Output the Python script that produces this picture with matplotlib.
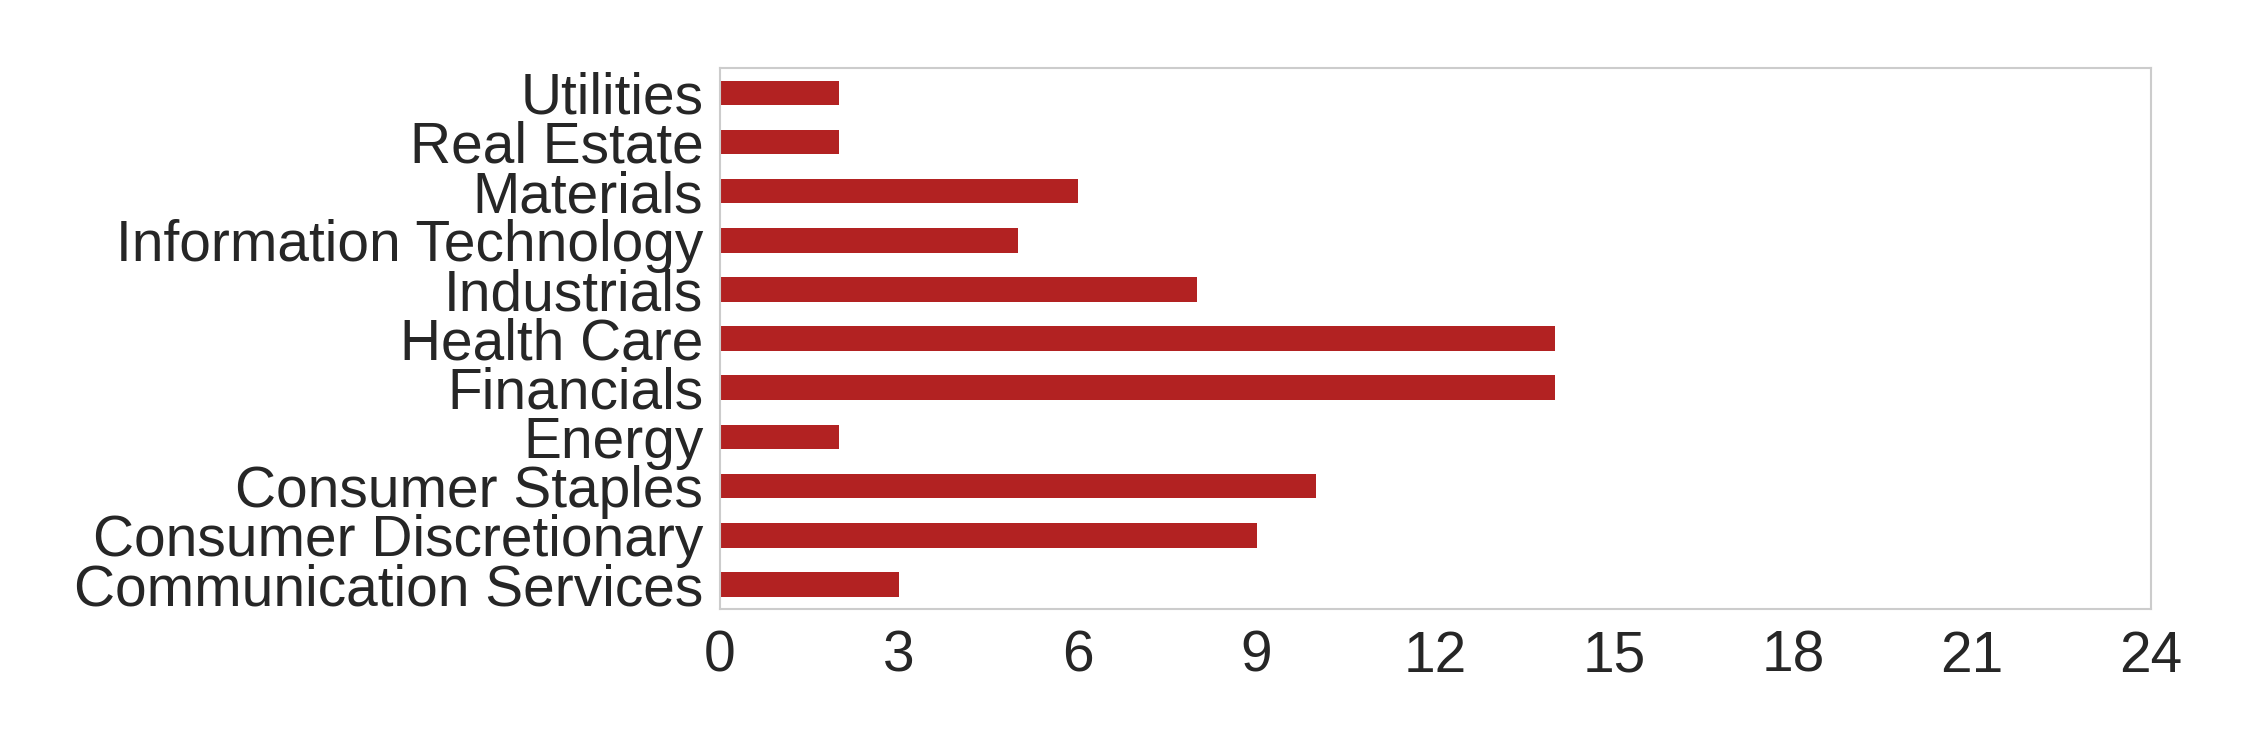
import matplotlib
matplotlib.use('Agg')
import matplotlib.pyplot as plt
import pandas as pd

# -- Datos: número de empresas por sector
sectores = ['Communication Services', 'Consumer Discretionary', 'Consumer Staples', 'Energy',
            'Financials', 'Health Care', 'Industrials', 'Information Technology',
            'Materials', 'Real Estate', 'Utilities']
conteo = [3, 9, 10, 2, 14, 14, 8, 5, 6, 2, 2]
xticks = [0, 3, 6, 9, 12, 15, 18, 21, 24]

plt.rcParams['font.family'] = ['Liberation Sans', 'DejaVu Sans']

serie = pd.Series(conteo, index=sectores)

fig, ax = plt.subplots(figsize=(15, 5), dpi=150)
fig.subplots_adjust(left=0.32, right=0.956, top=0.909, bottom=0.188)
serie.plot(kind='barh', ax=ax, color='#B22222', width=0.5)

ax.set_xlim(0, 24)
ax.set_xticks(xticks)
ax.set_ylabel('')
ax.grid(False)
ax.tick_params(axis='both', length=0, labelsize=27.3, colors='#262626', pad=8)
ax.tick_params(axis='x', pad=10)
for s in ax.spines.values():
    s.set_color('#cccccc')
    s.set_linewidth(1.0)

fig.savefig('out.png', dpi=150)
